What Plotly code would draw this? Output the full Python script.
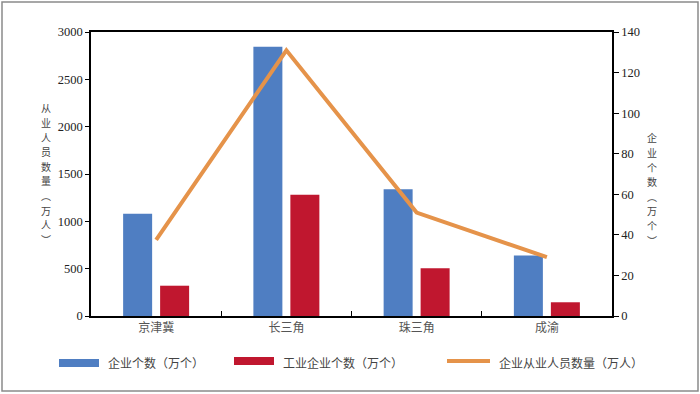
import plotly.graph_objects as go

categories = ["京津冀", "长三角", "珠三角", "成渝"]
enterprises = [1080, 2845, 1340, 640]          # 企业个数（万个）
industrial = [320, 1280, 505, 145]             # 工业企业个数（万个）
employees = [37.5, 131, 51, 29]                # 企业从业人员数量（万人）

left_title = "从业人员数量︵万人︶"
right_title = "企业个数︵万个︶"
legend_names = ["企业个数（万个）", "工业企业个数（万个）", "企业从业人员数量（万人）"]

BLUE = "#4F7EC2"
RED = "#C0172F"
ORANGE = "#E5934A"

W, H = 700, 394
L, R, T, B = 91, 612, 32, 316


def px2x(px):
    return (px - L) / (R - L)


def py2y(py):
    return (B - py) / (B - T)


fig = go.Figure()
fig.add_trace(go.Bar(x=categories, y=enterprises, marker=dict(color=BLUE, line=dict(width=0)),
                     name=legend_names[0], showlegend=False))
fig.add_trace(go.Bar(x=categories, y=industrial, marker=dict(color=RED, line=dict(width=0)),
                     name=legend_names[1], showlegend=False))
fig.add_trace(go.Scatter(x=categories, y=employees, yaxis="y2", mode="lines",
                         line=dict(color=ORANGE, width=4), name=legend_names[2], showlegend=False))

tickfont = dict(family="Liberation Serif, Times New Roman, serif", size=12.5, color="#222")
cjk = "Noto Sans CJK SC"

annotations = []
# vertical axis titles: one upright character per annotation
pitch = 14.6
title_size = 10
left_center = 173.5
for i, ch in enumerate(left_title):
    yc = left_center + (i - (len(left_title) - 1) / 2) * pitch
    annotations.append(dict(x=px2x(46), y=py2y(yc), xref="paper", yref="paper",
                            text=ch, showarrow=False, xanchor="center", yanchor="middle",
                            font=dict(family=cjk, size=title_size, color="#444")))
right_center = 189
for i, ch in enumerate(right_title):
    yc = right_center + (i - (len(right_title) - 1) / 2) * pitch
    annotations.append(dict(x=px2x(652), y=py2y(yc), xref="paper", yref="paper",
                            text=ch, showarrow=False, xanchor="center", yanchor="middle",
                            font=dict(family=cjk, size=title_size, color="#444")))

# custom legend
leg_text_x = [106, 281, 497]
for name, tx in zip(legend_names, leg_text_x):
    annotations.append(dict(x=px2x(tx), y=py2y(362), xref="paper", yref="paper", text=name,
                            showarrow=False, xanchor="left", yanchor="middle",
                            font=dict(family=cjk, size=12, color="#444")))

shapes = [
    dict(type="rect", xref="paper", yref="paper", x0=px2x(59), x1=px2x(99), y0=py2y(367), y1=py2y(359),
         fillcolor=BLUE, line=dict(width=0)),
    dict(type="rect", xref="paper", yref="paper", x0=px2x(234), x1=px2x(274), y0=py2y(365), y1=py2y(357),
         fillcolor=RED, line=dict(width=0)),
    dict(type="line", xref="paper", yref="paper", x0=px2x(447), x1=px2x(490), y0=py2y(361), y1=py2y(361),
         line=dict(color=ORANGE, width=4)),
    dict(type="rect", xref="paper", yref="paper", x0=px2x(2), x1=px2x(698), y0=py2y(2), y1=py2y(391),
         line=dict(color="#8a8a8a", width=1.5)),
]

fig.update_layout(
    width=W, height=H,
    margin=dict(l=L, r=W - R, t=T, b=H - B),
    paper_bgcolor="white", plot_bgcolor="white",
    barmode="group", bargap=0.432, bargroupgap=0.216,
    xaxis=dict(showline=True, linecolor="black", linewidth=1.5, mirror=True,
               ticks="inside", tickson="boundaries", ticklen=5, tickcolor="black",
               tickfont=dict(family=cjk, size=12, color="#555"), showgrid=False),
    yaxis=dict(range=[0, 3000], dtick=500, showline=True, linecolor="black", linewidth=1.5,
               ticks="outside", ticklen=4, tickcolor="black", tickfont=tickfont,
               showgrid=False, zeroline=False),
    yaxis2=dict(range=[0, 140], dtick=20, overlaying="y", side="right", showline=True,
                linecolor="black", linewidth=1.5, ticks="outside", ticklen=5, tickcolor="black",
                tickfont=tickfont, showgrid=False, zeroline=False),
    annotations=annotations,
    shapes=shapes,
    showlegend=False,
)

fig.write_html("out.html", config={"displayModeBar": False},
               post_script="document.body.style.margin='0';document.body.style.overflow='hidden';")
